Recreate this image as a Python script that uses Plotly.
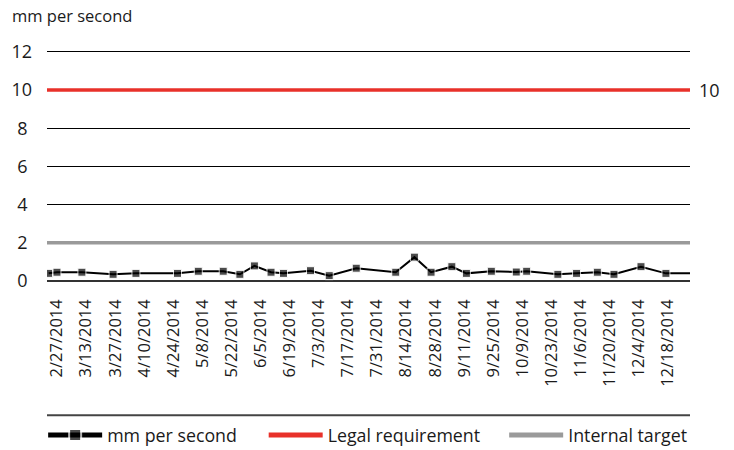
import plotly.graph_objects as go

# Data
dates = ["2014-02-23", "2014-02-27", "2014-03-11", "2014-03-26", "2014-04-06",
         "2014-04-26", "2014-05-06", "2014-05-18", "2014-05-26", "2014-06-02",
         "2014-06-10", "2014-06-16", "2014-06-29", "2014-07-08", "2014-07-21",
         "2014-08-09", "2014-08-18", "2014-08-26", "2014-09-05", "2014-09-12",
         "2014-09-24", "2014-10-06", "2014-10-11", "2014-10-26", "2014-11-04",
         "2014-11-14", "2014-11-22", "2014-12-05", "2014-12-17", "2014-12-29"]
mm_per_second = [0.40, 0.46, 0.46, 0.35, 0.40,
                 0.40, 0.51, 0.51, 0.35, 0.79,
                 0.46, 0.40, 0.54, 0.28, 0.67,
                 0.46, 1.25, 0.46, 0.75, 0.40,
                 0.51, 0.47, 0.51, 0.35, 0.40,
                 0.46, 0.35, 0.75, 0.40, 0.40]
marker_shown = [1] * (len(dates) - 1) + [0]

limit_dates = ["2014-02-20", "2014-12-31"]
legal_requirement = [10, 10]
internal_target = [2, 2]

y_ticks = [0, 2, 4, 6, 8, 10, 12]
y_tick_labels = ["0\u2005", "2\u2005", "4\u2005", "6\u2005", "8\u2005", "10", "12"]

FONT = "Open Sans"
TXT = "#1a1a1a"

fig = go.Figure()
fig.add_trace(go.Scatter(
    x=limit_dates, y=internal_target, mode="lines", name="Internal target",
    line=dict(color="#9a9a9a", width=3.5), legend="legend3"))
fig.add_trace(go.Scatter(
    x=limit_dates, y=legal_requirement, mode="lines", name="Legal requirement",
    line=dict(color="#e8312a", width=3.5), legend="legend2"))
fig.add_trace(go.Scatter(
    x=dates, y=mm_per_second, mode="lines+markers", name="mm per second",
    line=dict(color="#000000", width=2),
    marker=dict(symbol="square", color="#000000",
                size=[8 if s else 0 for s in marker_shown]),
    legend="legend"))

leg_common = dict(orientation="h", y=-0.668, yanchor="middle", xanchor="left",
                  font=dict(size=17.8, family=FONT, color=TXT),
                  bgcolor="rgba(0,0,0,0)", itemsizing="constant", itemwidth=54)

fig.update_layout(
    width=734, height=450,
    margin=dict(l=47, r=44, t=50, b=169, autoexpand=False),
    paper_bgcolor="white", plot_bgcolor="white",
    font=dict(family=FONT, size=15, color=TXT),
    showlegend=True,
    legend=dict(x=-0.006, **leg_common),
    legend2=dict(x=0.337, **leg_common),
    legend3=dict(x=0.711, **leg_common),
    xaxis=dict(
        type="date",
        range=["2014-02-22 05:00", "2014-12-28 14:00"],
        tick0="2014-02-27", dtick=14 * 86400000,
        tickformat="%-m/%-d/%Y", tickangle=-90,
        showgrid=False, showline=False, zeroline=False,
        ticks="", ticklabelstandoff=14, automargin=False,
        tickfont=dict(size=16.5, family=FONT, color=TXT),
    ),
    yaxis=dict(
        range=[0, 12.1], tickvals=y_ticks, ticktext=y_tick_labels,
        showgrid=True, gridcolor="#000000", gridwidth=1,
        zeroline=True, zerolinecolor="#333333", zerolinewidth=2,
        showline=False, ticks="", ticklabelstandoff=14, automargin=False,
        tickfont=dict(size=18, family=FONT, color=TXT),
    ),
    annotations=[
        dict(text="mm per second", xref="paper", yref="paper", x=-0.058, y=1.15,
             xanchor="left", yanchor="middle", showarrow=False,
             font=dict(size=16.5, family=FONT, color=TXT)),
        dict(text="10", xref="paper", yref="y", x=1, y=10, xanchor="left",
             yanchor="middle", xshift=7, showarrow=False,
             font=dict(size=18, family=FONT, color=TXT)),
    ],
    shapes=[
        dict(type="line", xref="paper", yref="paper", x0=0, x1=1,
             y0=-0.581, y1=-0.581, line=dict(color="#444444", width=2)),
    ],
)

fig.write_html("out.html", config={"displayModeBar": False},
               post_script="document.body.style.margin='0';document.body.style.padding='0';")
